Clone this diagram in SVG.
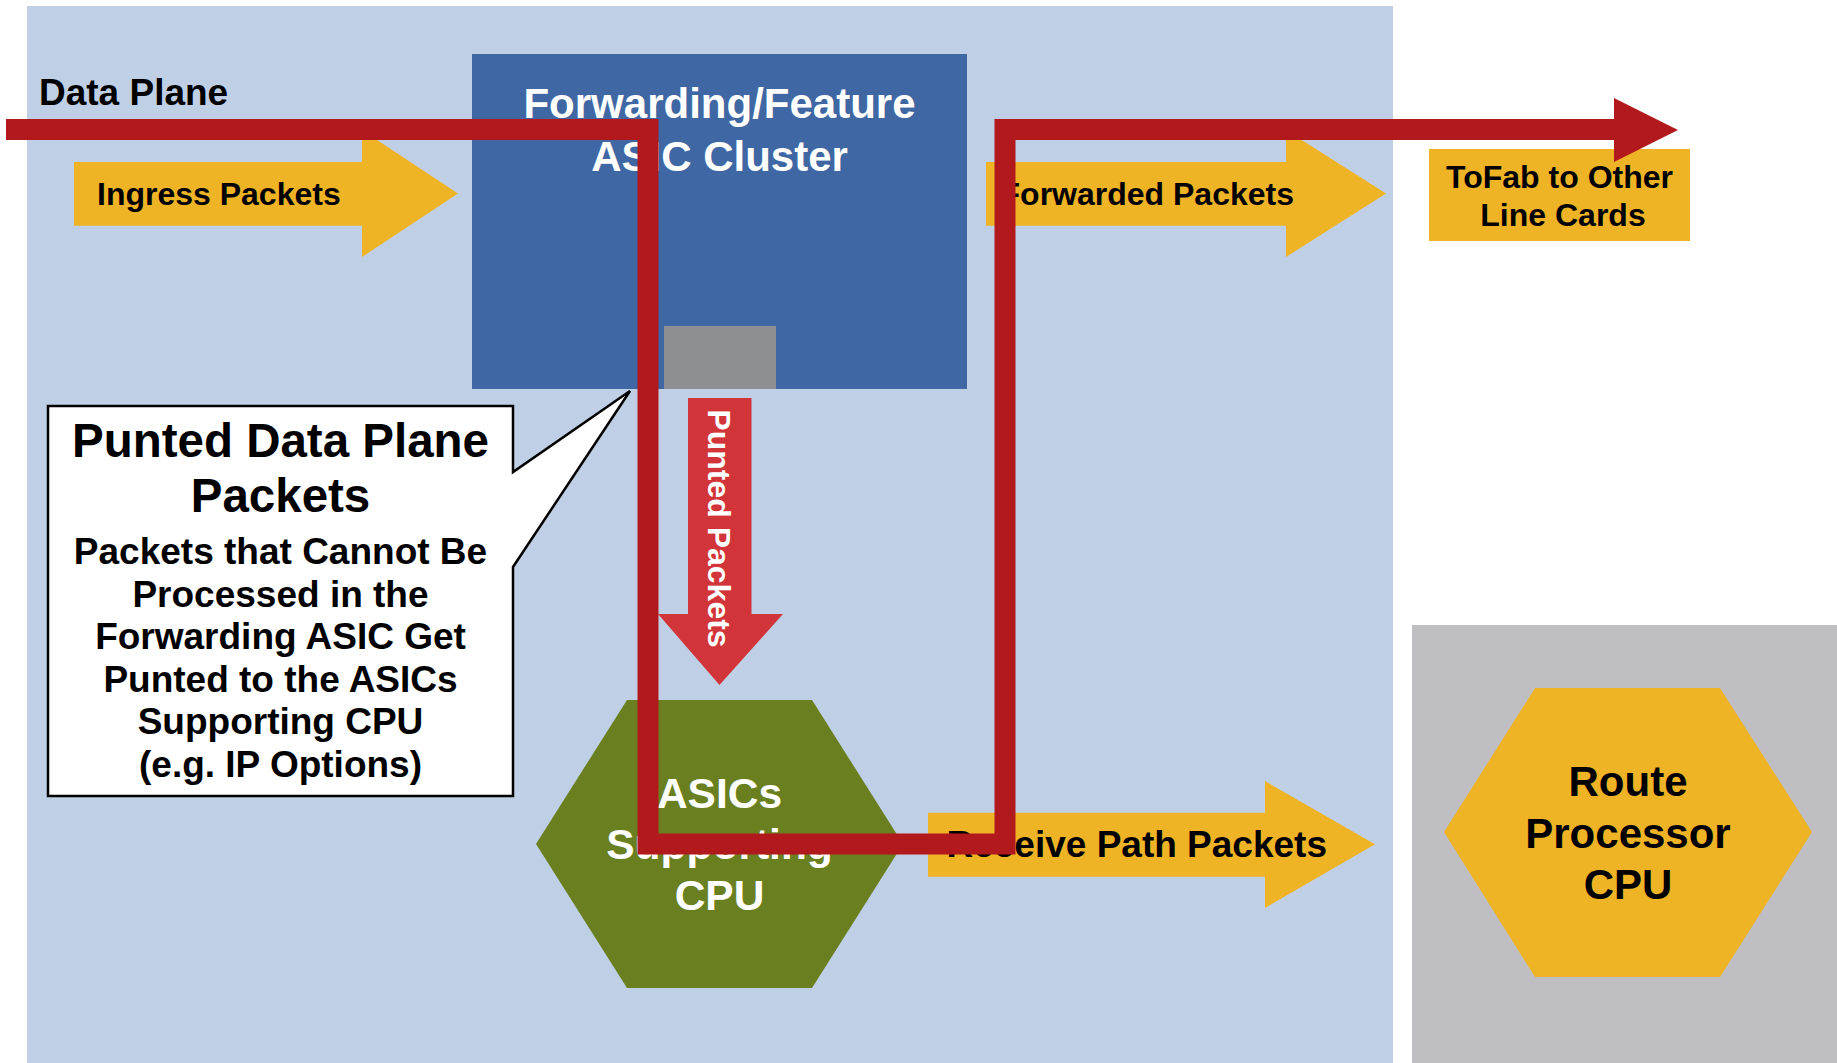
<svg xmlns="http://www.w3.org/2000/svg" width="1837" height="1063" viewBox="0 0 1837 1063">
<style>
text{font-family:"Liberation Sans",Arial,sans-serif;font-weight:bold}
.blk{fill:#000}
.wht{fill:#fff}
.mid{text-anchor:middle}
.yel{fill:#EFB426}
</style>
<rect x="0" y="0" width="1837" height="1063" fill="#fff"/>
<g id="data-plane-bg">
<rect x="27" y="6" width="1366" height="1057" fill="#BFD0E6"/>
<text x="39" y="105" font-size="37" class="blk">Data Plane</text>
</g>
<g id="rp-bg">
<rect x="1412" y="625" width="425" height="438" fill="#BFBEC3"/>
</g>
<g id="ingress">
<polygon class="yel" points="74,162 362,162 362,130 458,193.5 362,257 362,225.7 74,225.7"/>
<text x="97" y="205" font-size="32" class="blk">Ingress Packets</text>
</g>
<g id="forwarded">
<polygon class="yel" points="986,162 1286,162 1286,130 1386,193.5 1286,257 1286,225.7 986,225.7"/>
<text x="1294" y="205" font-size="32" class="blk" text-anchor="end">Forwarded Packets</text>
</g>
<g id="asic-cluster">
<rect x="472" y="54" width="495" height="335" fill="#3F67A3"/>
<rect x="664" y="326" width="112" height="63" fill="#8E8F93"/>
<text x="719.5" y="118" font-size="42" class="wht mid">Forwarding/Feature</text>
<text x="719.5" y="171" font-size="42" class="wht mid">ASIC Cluster</text>
</g>
<g id="tofab">
<rect x="1429" y="149" width="261" height="92" class="yel"/>
<text x="1559.5" y="188" font-size="32" class="blk mid">ToFab to Other</text>
<text x="1563" y="226" font-size="32" class="blk mid">Line Cards</text>
</g>
<g id="callout">
<path d="M48,406 H513 V472 L630,391 L513,567 V796 H48 Z" fill="#fff" stroke="#000" stroke-width="2.5"/>
<text x="280.5" y="457" font-size="47.5" class="blk mid">Punted Data Plane</text>
<text x="280.5" y="512" font-size="47.5" class="blk mid">Packets</text>
<text x="280.5" y="564" font-size="37" class="blk mid">Packets that Cannot Be</text>
<text x="280.5" y="607" font-size="37" class="blk mid">Processed in the</text>
<text x="280.5" y="649" font-size="37" class="blk mid">Forwarding ASIC Get</text>
<text x="280.5" y="692" font-size="37" class="blk mid">Punted to the ASICs</text>
<text x="280.5" y="734" font-size="37" class="blk mid">Supporting CPU</text>
<text x="280.5" y="777" font-size="37" class="blk mid">(e.g. IP Options)</text>
</g>
<g id="punted">
<polygon fill="#D23539" points="688,398 751.5,398 751.5,614 783,614 719.5,685 658,614 688,614"/>
<text transform="translate(719.5,528.5) rotate(90)" x="0" y="11.5" font-size="32" class="wht mid">Punted Packets</text>
</g>
<g id="asics-cpu">
<polygon fill="#6A7F1F" points="627,700 812,700 903,844 812,988 627,988 536,844"/>
<text x="719.5" y="808" font-size="42.5" class="wht mid">ASICs</text>
<text x="719.5" y="859" font-size="42.5" class="wht mid">Supporting</text>
<text x="719.5" y="910" font-size="42.5" class="wht mid">CPU</text>
</g>
<g id="receive">
<polygon class="yel" points="928,812.7 1265,812.7 1265,781 1375,844.3 1265,908 1265,876.7 928,876.7"/>
<text x="1327" y="857" font-size="37" class="blk" text-anchor="end">Receive Path Packets</text>
</g>
<g id="route-processor">
<polygon class="yel" points="1535,688 1720,688 1812,832 1720,977 1535,977 1444,832"/>
<text x="1628" y="796" font-size="42" class="blk mid">Route</text>
<text x="1628" y="848" font-size="42" class="blk mid">Processor</text>
<text x="1628" y="899" font-size="42" class="blk mid">CPU</text>
</g>
<g id="connectors">
<path d="M6,129.5 H648 V844 H1005 V129.5 H1615" fill="none" stroke="#B2191C" stroke-width="21" stroke-linejoin="miter"/>
<polygon fill="#B2191C" points="1614,98 1678,130 1614,162"/>
</g>
</svg>
